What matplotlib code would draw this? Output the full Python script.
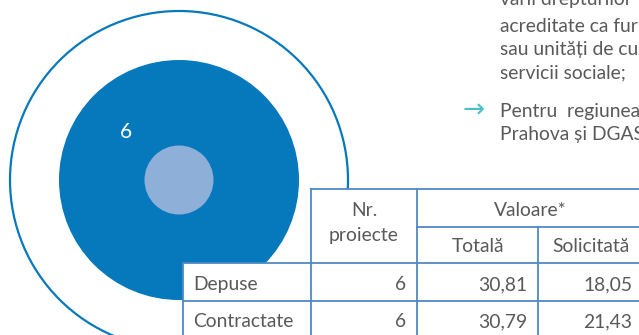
import matplotlib
matplotlib.use("Agg")
import matplotlib.pyplot as plt
from matplotlib.patches import Circle, Rectangle

# data
circle_label = "6"
row_labels = ["Depuse", "Contractate"]
nr_proiecte = [6, 6]
valoare_totala = [30.81, 30.79]
valoare_solicitata = [18.05, 21.43]
head_nr = "Nr.\nproiecte"
head_valoare = "Valoare*"
head_sub = ["Totală", "Solicitată"]
para_lines = ["varii drepturilor", "acreditate ca furnizori", "sau unități de cu",
              "servicii sociale;"]
bullet_lines = ["Pentru  regiunea", "Prahova și DGASPC"]

plt.rcParams['font.family'] = ['Lato', 'DejaVu Sans']

blue = '#0679bc'
light = '#8eb0d8'
line_c = '#5089c6'
grey = '#595959'
fs = 13.9

fig = plt.figure(figsize=(6.39, 3.35), dpi=100)
ax = fig.add_axes([0, 0, 1, 1])
ax.set_xlim(0, 639)
ax.set_ylim(335, 0)
ax.axis('off')

# concentric circles
cx, cy = 179, 180
ax.add_patch(Circle((cx, cy), 169, fill=False, ec=blue, lw=1.6, zorder=1))
ax.add_patch(Circle((cx, cy), 120, fc=blue, ec='none', zorder=2))
ax.add_patch(Circle((cx, cy), 34.5, fc=light, ec='none', zorder=3))
ax.text(126, 138, circle_label, color='white', fontsize=15, ha='center',
        va='baseline', zorder=4)

# paragraph text top right
para_y = [5, 32, 55, 78]
for s, y in zip(para_lines, para_y):
    ax.text(500, y, s, color=grey, fontsize=fs, va='baseline', ha='left')
for i, s in enumerate(bullet_lines):
    ax.text(500, 117 + 23 * i, s, color=grey, fontsize=fs, va='baseline', ha='left')
ax.text(462, 118, '→', color='#4bbfc6', fontsize=19, va='baseline', ha='left',
        family=['DejaVu Sans'])

# table
xs = [183, 311, 417, 538, 643]
ys = [189, 227, 263, 301, 339]
ax.add_patch(Rectangle((xs[1], ys[0]), 400, ys[2] - ys[0], fc='white', ec='none', zorder=5))
ax.add_patch(Rectangle((xs[0], ys[2]), 500, 100, fc='white', ec='none', zorder=5))
lw = 1.3
kw = dict(color=line_c, lw=lw, zorder=6)
ax.plot([xs[1], 700], [ys[0], ys[0]], **kw)
ax.plot([xs[2], 700], [ys[1], ys[1]], **kw)
for y in ys[2:]:
    ax.plot([xs[0], 700], [y, y], **kw)
ax.plot([xs[0], xs[0]], [ys[2], 340], **kw)
ax.plot([xs[1], xs[1]], [ys[0], 340], **kw)
ax.plot([xs[2], xs[2]], [ys[0], 340], **kw)
ax.plot([xs[3], xs[3]], [ys[1], 340], **kw)
ax.plot([xs[4], xs[4]], [ys[1], 340], **kw)

tk = dict(color=grey, fontsize=fs, va='baseline', zorder=7)
nr1, nr2 = head_nr.split('\n')
ax.text((xs[1] + xs[2]) / 2, 216, nr1, ha='center', **tk)
ax.text((xs[1] + xs[2]) / 2, 241, nr2, ha='center', **tk)
ax.text((xs[2] + xs[4]) / 2, 216, head_valoare, ha='center', **tk)
for j, s in enumerate(head_sub):
    ax.text((xs[2 + j] + xs[3 + j]) / 2, 252.5, s, ha='center', **tk)


def fmt(v):
    return f"{v:.2f}".replace('.', ',')


row_base = [290, 327]
for i, lab in enumerate(row_labels):
    y = row_base[i]
    ax.text(xs[0] + 10, y, lab, ha='left', **tk)
    ax.text(xs[2] - 11, y, str(nr_proiecte[i]), ha='right', **tk)
    ax.text(xs[3] - 11, y, fmt(valoare_totala[i]), ha='right', **tk)
    ax.text(xs[4] - 11, y, fmt(valoare_solicitata[i]), ha='right', **tk)

fig.savefig('out.png', dpi=100)
